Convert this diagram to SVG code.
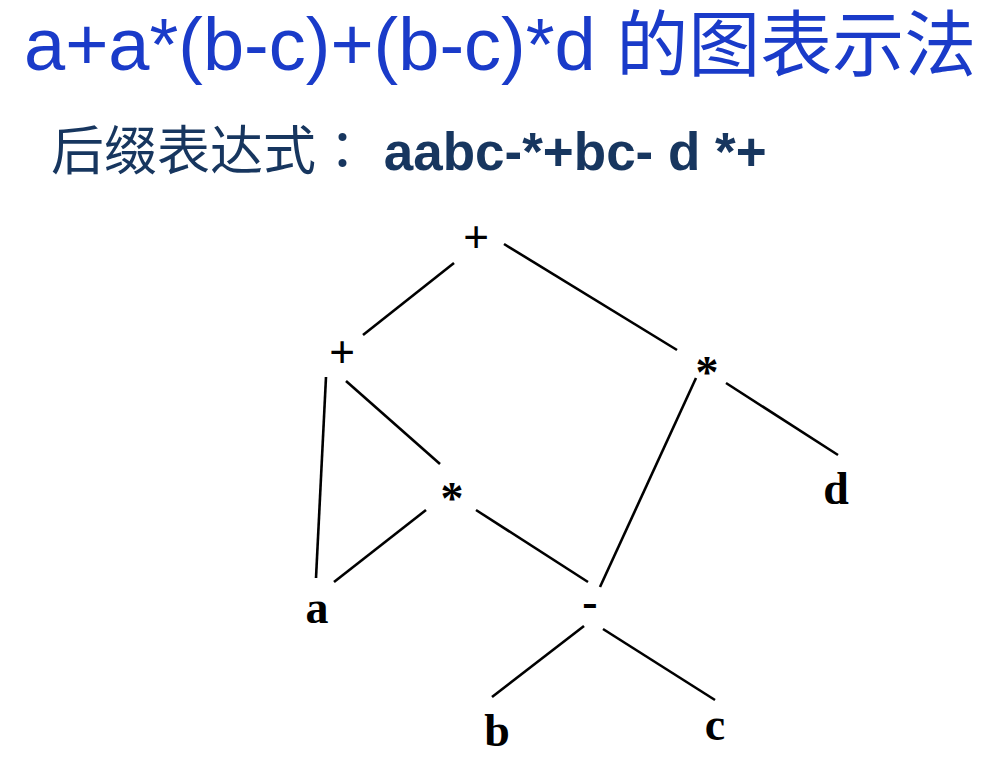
<svg xmlns="http://www.w3.org/2000/svg" width="993" height="783" viewBox="0 0 993 783">
<style>
.title{font-family:"Liberation Sans","Noto Sans CJK SC",sans-serif;font-size:74px;fill:#1a3bc9}
.title .cjk{font-size:72px}
.sub{font-family:"Liberation Sans","Noto Sans CJK SC",sans-serif;font-size:53px;fill:#17365f}
.lbl{font-family:"Liberation Serif","DejaVu Serif",serif;font-weight:bold;font-size:46px;fill:#000;text-anchor:middle}
.edge{stroke:#000;stroke-width:2.6;fill:none;stroke-linecap:butt}
</style>
<rect width="993" height="783" fill="#fff"/>
<text class="title" x="24" y="70">a+a*(b-c)+(b-c)*d <tspan class="cjk">的图表示法</tspan></text>
<text class="sub" x="51" y="170">后缀表达式<tspan font-family="'Noto Sans CJK TC',sans-serif">：</tspan><tspan font-weight="bold"> aabc-*+bc- d *+</tspan></text>
<g id="connectors">
<line class="edge" x1="454" y1="263" x2="363" y2="335"/>
<line class="edge" x1="504" y1="244" x2="677" y2="350"/>
<line class="edge" x1="326" y1="377" x2="316" y2="578"/>
<line class="edge" x1="346" y1="381" x2="440" y2="464"/>
<line class="edge" x1="426" y1="510" x2="334" y2="582"/>
<line class="edge" x1="476" y1="510" x2="588" y2="582"/>
<line class="edge" x1="696" y1="378" x2="600" y2="587"/>
<line class="edge" x1="726" y1="383" x2="838" y2="455"/>
<line class="edge" x1="584" y1="626" x2="492" y2="697"/>
<line class="edge" x1="603" y1="629" x2="715" y2="700"/>
</g>
<g id="n-root"><text class="lbl" x="476" y="253">+</text></g>
<g id="n-plus"><text class="lbl" x="342" y="368">+</text></g>
<g id="n-mul1"><text class="lbl" x="452" y="514">*</text></g>
<g id="n-mul2"><text class="lbl" x="707" y="388">*</text></g>
<g id="n-d"><text class="lbl" x="836" y="504">d</text></g>
<g id="n-a"><text class="lbl" x="317" y="623">a</text></g>
<g id="n-minus"><text class="lbl" x="590" y="617">-</text></g>
<g id="n-b"><text class="lbl" x="497" y="746">b</text></g>
<g id="n-c"><text class="lbl" x="715" y="740">c</text></g>
</svg>
